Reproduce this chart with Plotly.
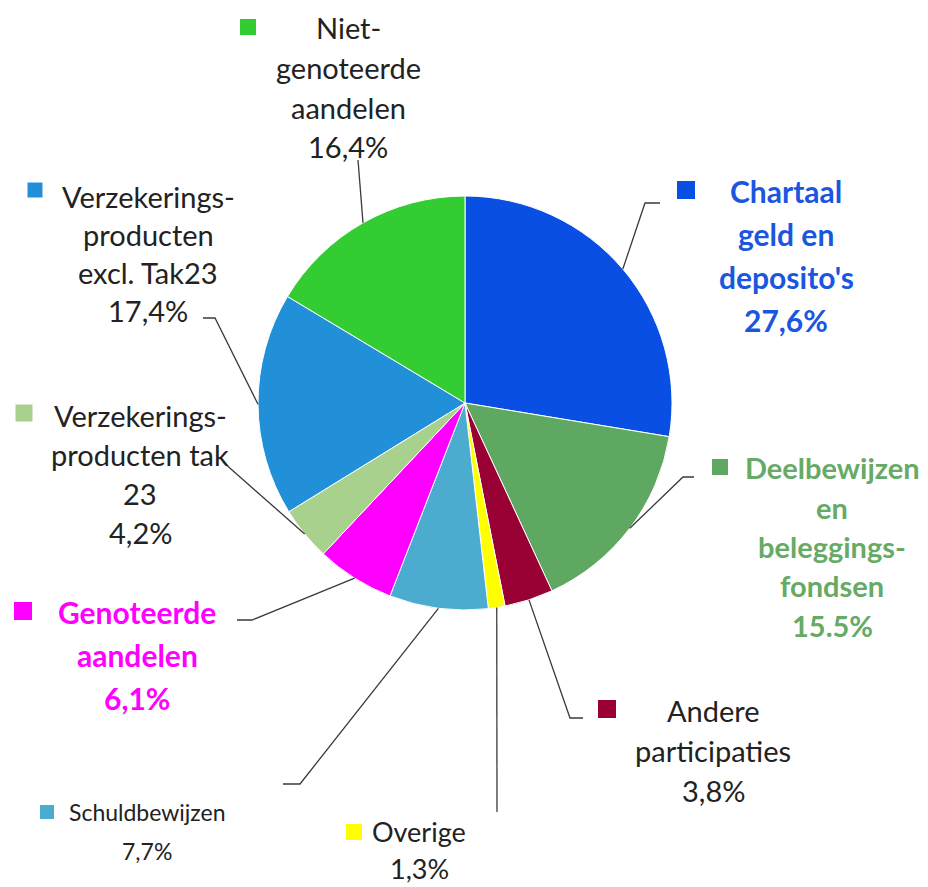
import math
import plotly.graph_objects as go

# ---------------- data ----------------
categories = [
    "Chartaal geld en deposito's",
    "Deelbewijzen en beleggingsfondsen",
    "Andere participaties",
    "Overige",
    "Schuldbewijzen",
    "Genoteerde aandelen",
    "Verzekeringsproducten tak 23",
    "Verzekeringsproducten excl. Tak23",
    "Niet-genoteerde aandelen",
]
values = [27.6, 15.5, 3.8, 1.3, 7.7, 6.1, 4.2, 17.4, 16.4]
pct_text = ["27,6%", "15.5%", "3,8%", "1,3%", "7,7%", "6,1%", "4,2%", "17,4%", "16,4%"]
label_lines = [
    ["Chartaal", "geld en", "deposito's"],
    ["Deelbewijzen", "en", "beleggings-", "fondsen"],
    ["Andere", "participaties"],
    ["Overige"],
    ["Schuldbewijzen"],
    ["Genoteerde", "aandelen"],
    ["Verzekerings-", "producten tak", "23"],
    ["Verzekerings-", "producten", "excl. Tak23"],
    ["Niet-", "genoteerde", "aandelen"],
]

# ---------------- styles / layout ----------------
colors = ["#0A4FE3", "#5FA862", "#990033", "#FFFF00", "#4BACD0",
          "#FF00FF", "#A9D18E", "#2290D8", "#33CC33"]
text_colors = ["#1A56E0", "#66AA66", "#222222", "#222222", "#222222",
               "#FF00FF", "#222222", "#222222", "#222222"]
bold = [True, True, False, False, False, True, False, False, False]
font_sizes = [30, 29, 29, 27, 23, 30, 29, 29, 29]

W, H = 928, 887
CX, CY, R = 465, 403, 207

# label block: center x, first line y, line spacing
blocks = [
    (786, 191, 43),
    (832, 468, 39.3),
    (713, 710, 40),
    (419, 831, 37),
    (147, 812, 39),
    (137, 612, 43),
    (140, 415, 39.3),
    (148, 196, 38.3),
    (348, 28, 39.5),
]
# marker squares: center x, center y, size
squares = [
    (686, 190, 18), (720, 467, 16), (607, 709, 18), (354, 832, 16),
    (47, 812, 14), (23, 611, 18), (24, 413, 17), (35, 190, 15), (248, 27, 16),
]
# leader line points after the anchor on the pie edge
leaders = [
    [(645, 203), (660, 203)],
    [(683, 477), (694, 477)],
    [(570, 718), (583, 718)],
    [(497, 812)],
    [(300, 784), (283, 784)],
    [(252, 620), (237, 620)],
    [(223, 462)],
    [(215, 318), (203, 318)],
    [(358, 160)],
]


def px(x):
    return x / W


def py(y):
    return 1 - y / H


fig = go.Figure(go.Pie(
    labels=categories,
    values=values,
    sort=False,
    direction="clockwise",
    rotation=0,
    marker=dict(colors=colors, line=dict(color="white", width=1)),
    textinfo="none",
    hoverinfo="label+percent",
    showlegend=False,
    domain=dict(x=[px(CX - R), px(CX + R)], y=[py(CY + R), py(CY - R)]),
))

annotations = []
shapes = []
total = sum(values)
cum = 0.0
for i, v in enumerate(values):
    mid = (cum + v / 2) / total * 2 * math.pi
    cum += v
    ax = CX + R * math.sin(mid)
    ay = CY - R * math.cos(mid)
    pts = [(ax, ay)] + leaders[i]
    path = "M " + " L ".join(f"{px(x):.5f},{py(y):.5f}" for x, y in pts)
    shapes.append(dict(type="path", xref="paper", yref="paper", path=path,
                       line=dict(color="#3A3A3A", width=1.3)))
    sx, sy, s = squares[i]
    shapes.append(dict(type="rect", xref="paper", yref="paper",
                       x0=px(sx - s / 2), x1=px(sx + s / 2),
                       y0=py(sy + s / 2), y1=py(sy - s / 2),
                       fillcolor=colors[i], line=dict(width=0)))
    cx, y0, sp = blocks[i]
    lines = label_lines[i] + [pct_text[i]]
    for k, t in enumerate(lines):
        txt = f"<b>{t}</b>" if bold[i] else t
        annotations.append(dict(
            x=px(cx), y=py(y0 + k * sp), xref="paper", yref="paper",
            text=txt, showarrow=False, xanchor="center", yanchor="middle",
            font=dict(family="Lato, Carlito, sans-serif", size=font_sizes[i],
                      color=text_colors[i]),
        ))

fig.update_layout(
    width=W, height=H, autosize=False,
    margin=dict(l=0, r=0, t=0, b=0),
    paper_bgcolor="white", plot_bgcolor="white",
    shapes=shapes, annotations=annotations,
)

fig.write_html("out.html",
               config={"displayModeBar": False},
               post_script="document.body.style.margin='0';"
                           "document.body.style.overflow='hidden';")
